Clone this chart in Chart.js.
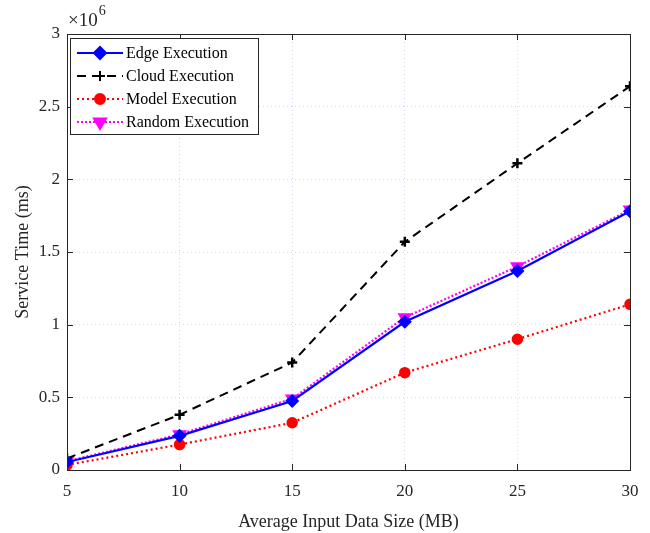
<!DOCTYPE html>
<html>
<head>
<meta charset="utf-8">
<script src="https://cdn.jsdelivr.net/npm/chart.js@4.4.1/dist/chart.umd.min.js"></script>
<style>
  body { margin: 0; background: #fff; }
</style>
</head>
<body>
<canvas id="chart" width="650" height="533"></canvas>
<script>
// Data (service time in ms)
const inputSizes = [5, 10, 15, 20, 25, 30];
const edgeExec   = [55000, 235000, 475000, 1020000, 1370000, 1780000];
const cloudExec  = [80000, 380000, 740000, 1570000, 2110000, 2640000];
const modelExec  = [35000, 175000, 325000, 670000, 900000, 1140000];
const randomExec = [60000, 245000, 490000, 1050000, 1400000, 1790000];
const xTicks = [5, 10, 15, 20, 25, 30];
const yTicks = [0, 500000, 1000000, 1500000, 2000000, 2500000, 3000000];

const serif = '"Liberation Serif", "Times New Roman", serif';

function toPoints(ys) {
    return inputSizes.map((x, i) => ({ x: x, y: ys[i] }));
}

const series = [
    { label: 'Edge Execution',   data: edgeExec,   color: '#0000ff', dash: [],     width: 2.2, point: 'rectRot',  radius: 6, rot: 0 },
    { label: 'Cloud Execution',  data: cloudExec,  color: '#000000', dash: [9, 6], width: 2,   point: 'cross',    radius: 5, rot: 0 },
    { label: 'Model Execution',  data: modelExec,  color: '#ff0000', dash: [2, 3], width: 2.2, point: 'circle',   radius: 5, rot: 0 },
    { label: 'Random Execution', data: randomExec, color: '#ff00ff', dash: [2, 2], width: 2.2, point: 'triangle', radius: 7, rot: 180 }
];

// MATLAB-style box, inward ticks, exponent label and legend
const matlabFrame = {
    id: 'matlabFrame',
    afterDraw(chart) {
        const ctx = chart.ctx;
        const a = chart.chartArea;
        const xs = chart.scales.x, ys = chart.scales.y;
        ctx.save();
        ctx.strokeStyle = '#262626';
        ctx.lineWidth = 1;
        ctx.setLineDash([]);
        ctx.strokeRect(a.left + 0.5, a.top + 0.5, a.right - a.left, a.bottom - a.top);
        ctx.beginPath();
        xTicks.forEach(v => {
            const px = Math.round(xs.getPixelForValue(v)) + 0.5;
            ctx.moveTo(px, a.bottom); ctx.lineTo(px, a.bottom - 6);
            ctx.moveTo(px, a.top); ctx.lineTo(px, a.top + 6);
        });
        yTicks.forEach(v => {
            const py = Math.round(ys.getPixelForValue(v)) + 0.5;
            ctx.moveTo(a.left, py); ctx.lineTo(a.left + 6, py);
            ctx.moveTo(a.right, py); ctx.lineTo(a.right - 6, py);
        });
        ctx.stroke();

        // exponent label
        ctx.fillStyle = '#262626';
        ctx.textBaseline = 'alphabetic';
        ctx.textAlign = 'left';
        ctx.font = '19px ' + serif;
        ctx.fillText('\u00d710', a.left + 1, a.top - 8);
        const w = ctx.measureText('\u00d710').width;
        ctx.font = '14px ' + serif;
        ctx.fillText('6', a.left + w + 2, a.top - 19);

        // legend
        const lx = a.left + 3, ly = a.top + 4, lw = 188, lh = 96;
        ctx.fillStyle = '#fff';
        ctx.fillRect(lx, ly, lw, lh);
        ctx.strokeStyle = '#262626';
        ctx.lineWidth = 1;
        ctx.strokeRect(lx + 0.5, ly + 0.5, lw, lh);
        ctx.font = '16px ' + serif;
        ctx.textBaseline = 'middle';
        chart.data.datasets.forEach((ds, i) => {
            const cy = ly + 15 + i * 23;
            ctx.strokeStyle = ds.borderColor;
            ctx.lineWidth = ds.borderWidth;
            ctx.setLineDash(ds.borderDash);
            ctx.beginPath();
            ctx.moveTo(lx + 7, cy); ctx.lineTo(lx + 53, cy);
            ctx.stroke();
            ctx.setLineDash([]);
            ctx.fillStyle = ds.borderColor;
            ctx.lineWidth = 2;
            Chart.helpers.drawPoint(ctx, {
                pointStyle: ds.pointStyle, radius: ds.pointRadius, rotation: ds.pointRotation,
                borderWidth: 2
            }, lx + 30, cy);
            ctx.fillStyle = '#000';
            ctx.fillText(ds.label, lx + 56, cy + 1);
        });
        ctx.restore();
    }
};

new Chart(document.getElementById('chart'), {
    type: 'line',
    data: {
        datasets: series.map(s => ({
            label: s.label,
            data: toPoints(s.data),
            borderColor: s.color,
            backgroundColor: s.color,
            borderWidth: s.width,
            borderDash: s.dash,
            pointStyle: s.point,
            pointRadius: s.radius,
            pointRotation: s.rot,
            pointBorderWidth: s.point === 'cross' ? 2.5 : 1.5,
            pointBorderColor: s.color,
            pointBackgroundColor: s.color,
            tension: 0
        }))
    },
    options: {
        responsive: false,
        animation: false,
        layout: { padding: { left: 12, right: 20, top: 34, bottom: 0 } },
        plugins: { legend: { display: false }, tooltip: { enabled: false } },
        scales: {
            x: {
                type: 'linear',
                min: 5, max: 30,
                afterBuildTicks: s => { s.ticks = xTicks.map(v => ({ value: v })); },
                afterFit: s => { s.height = 63; },
                grid: { color: '#d8d8f0', drawTicks: false, lineWidth: 1 },
                border: { display: false, dash: [1, 3] },
                ticks: { padding: 11, color: '#262626', font: { family: serif, size: 17 } },
                title: { display: true, text: 'Average Input Data Size (MB)', color: '#262626',
                         font: { family: serif, size: 18 }, padding: { top: 4, bottom: 0 } }
            },
            y: {
                min: 0, max: 3000000,
                afterBuildTicks: s => { s.ticks = yTicks.map(v => ({ value: v })); },
                afterFit: s => { s.width = 55; },
                grid: { color: '#d8d8f0', drawTicks: false, lineWidth: 1 },
                border: { display: false, dash: [1, 3] },
                ticks: { padding: 7, color: '#262626', font: { family: serif, size: 17 },
                         callback: v => String(v / 1000000) },
                title: { display: true, text: 'Service Time (ms)', color: '#262626',
                         font: { family: serif, size: 18 }, padding: { top: 0, bottom: 0 } }
            }
        }
    },
    plugins: [matlabFrame]
});
</script>
</body>
</html>
